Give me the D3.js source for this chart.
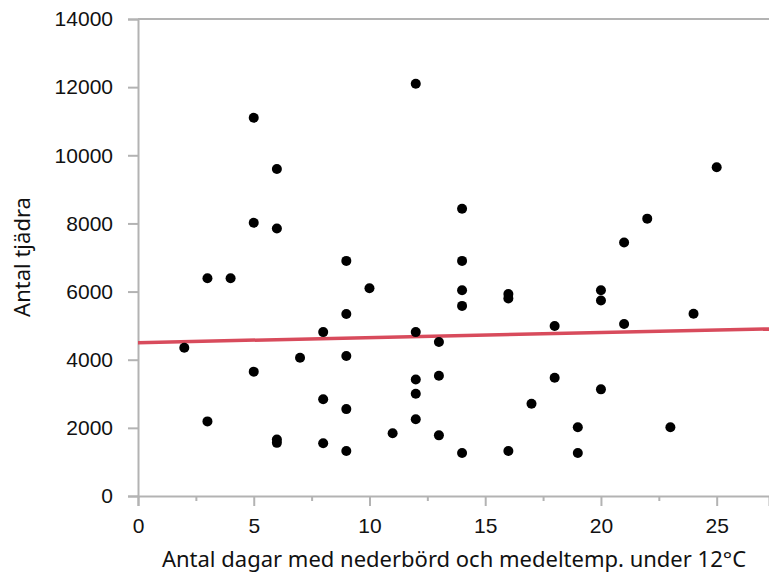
<!DOCTYPE html>
<html>
<head>
<meta charset="utf-8">
<script src="https://cdn.jsdelivr.net/npm/d3@7"></script>
<style>
  html, body { margin: 0; padding: 0; background: #fff; }
  svg { display: block; font-family: "Noto Sans", "Open Sans", sans-serif; }
</style>
</head>
<body>
<svg id="chart" width="769" height="577"></svg>
<script>
// Days with precipitation and mean temperature below 12°C
const days = [
  2, 3, 3, 4, 5, 5, 5, 6, 6, 6, 6, 7, 8, 8, 8,
  9, 9, 9, 9, 9, 10, 11, 12, 12, 12, 12, 12, 13, 13, 13,
  14, 14, 14, 14, 14, 16, 16, 16, 17, 18, 18, 19, 19,
  20, 20, 20, 21, 21, 22, 23, 24, 25
];
// Number of capercaillie (tjäder) counted
const counts = [
  4350, 6390, 2190, 6390, 11100, 8020, 3650, 9600, 7850, 1660, 1560, 4060, 4810, 2840, 1550,
  6900, 5340, 4110, 2550, 1320, 6100, 1840, 12100, 4810, 3420, 3000, 2250, 4520, 3530, 1780,
  8430, 6900, 6040, 5580, 1260, 5930, 5800, 1320, 2710, 4990, 3470, 2020, 1260,
  6040, 5740, 3130, 7440, 5050, 8140, 2020, 5350, 9650
];
// Linear trend line: intercept and slope
const trendIntercept = 4500;
const trendSlope = 14.8;

const xTicks = [0, 5, 10, 15, 20, 25];
const xMinorTicks = [2.5, 7.5, 12.5, 17.5, 22.5];
const yTicks = [0, 2000, 4000, 6000, 8000, 10000, 12000, 14000];
const xTitle = "Antal dagar med nederbörd och medeltemp. under 12°C";
const yTitle = "Antal tjädra";

const svg = d3.select("#chart");
const plotLeft = 138, plotRight = 769, plotTop = 19, plotBottom = 496;

const x = d3.scaleLinear().domain([0, 27.26]).range([plotLeft, plotRight]);
const y = d3.scaleLinear().domain([0, 14000]).range([plotBottom, plotTop]);

const axisColor = "#b3b3b3";
const textColor = "#111";

// top border of the plot area
svg.append("line")
  .attr("x1", plotLeft).attr("x2", plotRight)
  .attr("y1", y(14000)).attr("y2", y(14000))
  .attr("stroke", axisColor).attr("stroke-width", 2);

// y axis
const yAxis = svg.append("g")
  .attr("transform", `translate(${plotLeft},0)`)
  .call(d3.axisLeft(y).tickValues(yTicks).tickSize(10).tickPadding(15).tickFormat(d3.format("d")));
yAxis.select(".domain").attr("stroke", axisColor).attr("stroke-width", 2);
yAxis.selectAll(".tick line").attr("stroke", axisColor).attr("stroke-width", 2);
yAxis.selectAll(".tick text")
  .attr("fill", textColor).style("font-size", "21px");

// x axis minor ticks
const xMinor = svg.append("g")
  .attr("transform", `translate(0,${plotBottom})`)
  .call(d3.axisBottom(x).tickValues(xMinorTicks).tickSize(5).tickFormat(""));
xMinor.select(".domain").remove();
xMinor.selectAll(".tick line").attr("stroke", axisColor).attr("stroke-width", 2);

// x axis
const xAxis = svg.append("g")
  .attr("transform", `translate(0,${plotBottom})`)
  .call(d3.axisBottom(x).tickValues(xTicks).tickSize(10).tickPadding(12).tickFormat(d3.format("d")));
xAxis.select(".domain").attr("stroke", axisColor).attr("stroke-width", 2);
xAxis.selectAll(".tick line").attr("stroke", axisColor).attr("stroke-width", 2);
xAxis.selectAll(".tick text")
  .attr("fill", textColor).style("font-size", "21px");

// trend line
const xDom = x.domain();
svg.append("line")
  .attr("x1", x(xDom[0])).attr("y1", y(trendIntercept + trendSlope * xDom[0]))
  .attr("x2", x(xDom[1])).attr("y2", y(trendIntercept + trendSlope * xDom[1]))
  .attr("stroke", "#d84b5c").attr("stroke-width", 3.5);

// points
svg.append("g").selectAll("circle")
  .data(days.map((d, i) => [d, counts[i]]))
  .join("circle")
  .attr("cx", d => x(d[0]))
  .attr("cy", d => y(d[1]))
  .attr("r", 5)
  .attr("fill", "#000");

// axis titles
svg.append("text")
  .attr("x", 454).attr("y", 567)
  .attr("text-anchor", "middle")
  .attr("fill", textColor)
  .style("font-size", "22px")
  .text(xTitle);

svg.append("text")
  .attr("transform", "translate(30,257) rotate(-90)")
  .attr("text-anchor", "middle")
  .attr("fill", textColor)
  .style("font-size", "22px")
  .text(yTitle);
</script>
</body>
</html>
